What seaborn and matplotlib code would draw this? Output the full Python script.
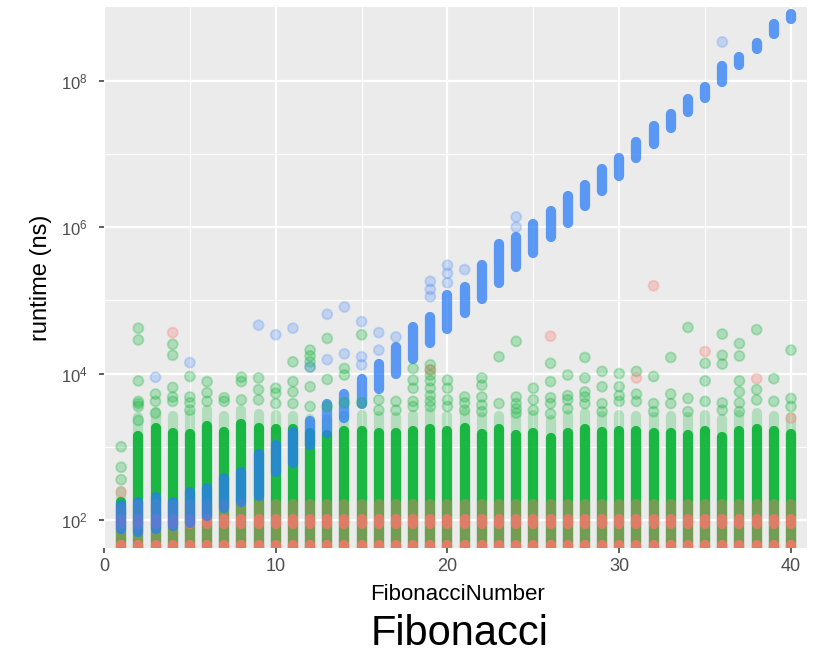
import numpy as np
import pandas as pd
import matplotlib
matplotlib.use("Agg")
import matplotlib.pyplot as plt
import seaborn as sns
from matplotlib.ticker import FixedLocator, FuncFormatter

# ---------------- data (log10 of runtime in ns) ----------------
fib_n = list(range(1, 41))

# dense green block: top of the solid column (bottom runs below the axis)
green_core_top = [2.24, 3.15, 3.26, 3.19, 3.17, 3.28, 3.20, 3.31, 3.26, 3.24,
                  3.24, 3.19, 3.16, 3.22, 3.22, 3.19, 3.19, 3.21, 3.24, 3.21,
                  3.26, 3.17, 3.24, 3.16, 3.19, 3.12, 3.19, 3.24, 3.20, 3.22,
                  3.21, 3.19, 3.19, 3.16, 3.21, 3.14, 3.21, 3.24, 3.21, 3.17]
green_core_bottom = [1.55] * 40
# lighter fringe above the dense green block
green_fringe_top = [2.40, 3.40, 3.48, 3.42, 3.45, 3.50, 3.42, 3.50, 3.45, 3.44,
                    3.42, 3.38, 3.36, 3.42, 3.44, 3.42, 3.40, 3.44, 3.48, 3.42,
                    3.46, 3.40, 3.42, 3.42, 3.44, 3.36, 3.44, 3.46, 3.42, 3.44,
                    3.42, 3.40, 3.42, 3.40, 3.44, 3.38, 3.44, 3.46, 3.42, 3.40]

green_out_n = [1, 1, 1,
               2, 2, 2, 2, 2, 2, 2,
               3, 3, 3,
               4, 4, 4, 4, 4,
               5, 5, 5, 5,
               6, 6, 6,
               7, 7,
               8, 8, 8,
               9, 9, 9,
               10, 10, 10,
               11, 11, 11, 11,
               12, 12, 12, 12, 12, 12,
               13, 13, 13,
               14, 14, 14,
               15, 15,
               16, 16,
               17, 17,
               18, 18, 18, 18, 18,
               19, 19, 19, 19, 19, 19, 19, 19,
               20, 20, 20, 20,
               21, 21, 21,
               22, 22, 22, 22, 22,
               23, 23,
               24, 24, 24, 24, 24,
               25, 25, 25,
               26, 26, 26, 26, 26,
               27, 27, 27, 27,
               28, 28, 28, 28, 28,
               29, 29, 29, 29,
               30, 30, 30, 30,
               31, 31, 31,
               32, 32, 32,
               33, 33, 33,
               34, 34, 34,
               35, 35, 35,
               36, 36, 36, 36, 36,
               37, 37, 37, 37, 37, 37,
               38, 38, 38,
               39, 39,
               40, 40, 40]
green_out_y = [3.00, 2.72, 2.55,
               4.62, 4.46, 3.90, 3.62, 3.59, 3.55, 3.36,
               3.72, 3.62, 3.46,
               4.40, 4.25, 3.81, 3.68, 3.62,
               3.96, 3.68, 3.60, 3.50,
               3.89, 3.74, 3.62,
               3.67, 3.62,
               3.95, 3.89, 3.64,
               3.94, 3.78, 3.64,
               3.80, 3.73, 3.59,
               4.16, 3.89, 3.75, 3.59,
               4.32, 4.24, 4.16, 4.09, 3.82, 3.55,
               4.48, 3.92, 3.55,
               4.07, 3.98, 3.60,
               4.53, 3.60,
               3.64, 3.50,
               3.62, 3.50,
               4.07, 3.91, 3.80, 3.62, 3.55,
               4.12, 4.05, 3.98, 3.90, 3.80, 3.70, 3.62, 3.55,
               3.91, 3.80, 3.64, 3.55,
               3.68, 3.60, 3.50,
               3.94, 3.84, 3.68, 3.57, 3.48,
               4.23, 3.59,
               4.44, 3.68, 3.59, 3.52, 3.46,
               3.80, 3.64, 3.50,
               4.14, 3.89, 3.67, 3.59, 3.45,
               3.98, 3.70, 3.64, 3.52,
               4.22, 3.94, 3.75, 3.68, 3.59,
               4.03, 3.82, 3.59, 3.48,
               4.00, 3.82, 3.70, 3.62,
               4.03, 3.72, 3.62,
               3.96, 3.59, 3.48,
               4.22, 3.72, 3.59,
               4.63, 3.66, 3.48,
               4.14, 3.90, 3.62,
               4.54, 4.25, 4.13, 3.60, 3.50,
               4.41, 4.24, 3.90, 3.75, 3.60, 3.48,
               4.60, 3.78, 3.64,
               3.93, 3.62,
               4.32, 3.66, 3.55]

# red: broad faint block and two dense bands near the bottom
red_block_bottom = [1.55] * 40
red_block_top = [2.15, 2.20, 2.22, 2.20, 2.22, 2.22, 2.22, 2.22, 2.22, 2.22,
                 2.22, 2.22, 2.22, 2.22, 2.22, 2.22, 2.22, 2.22, 2.22, 2.22,
                 2.22, 2.22, 2.22, 2.22, 2.22, 2.22, 2.22, 2.22, 2.22, 2.22,
                 2.22, 2.22, 2.22, 2.22, 2.22, 2.22, 2.22, 2.22, 2.22, 2.22]
red_low_band_top = [1.66] * 40
red_mid_band_bottom = [1.94] * 40
red_mid_band_top = [2.02] * 40
red_out_n = [1, 4, 19, 26, 31, 32, 35, 38, 40]
red_out_y = [2.38, 4.56, 4.05, 4.51, 3.94, 5.20, 4.30, 3.93, 3.39]

# blue: exponential column per n
blue_lo = [1.88, 1.83, 1.88, 1.92, 1.96, 2.06, 2.16, 2.24, 2.33, 2.65,
           2.78, 3.02, 3.19, 3.39, 3.59, 3.79, 4.00, 4.20, 4.42, 4.61,
           4.83, 5.02, 5.24, 5.45, 5.65, 5.86, 6.06, 6.29, 6.50, 6.70,
           6.94, 7.14, 7.35, 7.57, 7.77, 7.98, 8.21, 8.44, 8.64, 8.85]
blue_hi = [2.21, 2.25, 2.31, 2.25, 2.38, 2.44, 2.58, 2.66, 2.90, 3.03,
           3.20, 3.35, 3.58, 3.72, 3.92, 4.13, 4.36, 4.63, 4.77, 5.08,
           5.18, 5.49, 5.77, 5.86, 6.04, 6.22, 6.42, 6.58, 6.79, 6.95,
           7.16, 7.38, 7.54, 7.75, 7.91, 8.20, 8.33, 8.52, 8.77, 8.91]
blue_out_n = [3, 5, 9, 10, 11, 12, 13, 13, 14, 14, 15, 15, 15, 16, 16, 17,
              19, 19, 19, 20, 20, 20, 21, 24, 24, 36]
blue_out_y = [3.95, 4.15, 4.66, 4.53, 4.62, 4.09, 4.81, 4.19, 4.91, 4.27,
              4.71, 4.23, 4.12, 4.56, 4.32, 4.50,
              5.26, 5.15, 5.05, 5.48, 5.37, 5.24, 5.42, 6.14, 6.00, 8.53]

# ---------------- style ----------------
sns.set_theme(style="darkgrid")
plt.rcParams['font.family'] = ['Liberation Sans', 'DejaVu Sans']
plt.rcParams['mathtext.fontset'] = 'custom'
plt.rcParams['mathtext.rm'] = 'Liberation Sans'
plt.rcParams['mathtext.it'] = 'Liberation Sans:italic'

RED = '#F8766D'
GREEN = '#10B53A'
BLUE = '#2A7CF6'

W, H = 813, 654
fig = plt.figure(figsize=(W / 100, H / 100), dpi=100)
fig.patch.set_facecolor('white')
ax = fig.add_axes([104 / W, 1 - 548 / H, (807.3 - 104) / W, (548 - 7.3) / H])
ax.set_facecolor('#EBEBEB')


def p10(v):
    return np.power(10.0, np.asarray(v, dtype=float))


def column(x, lo, hi, color, alpha, lw=7.4):
    lc = ax.vlines(x, p10(lo), p10(hi), colors=color, alpha=alpha, linewidth=lw, zorder=2)
    lc.set_capstyle('round')
    return lc


# green
column(fib_n, green_core_top, green_fringe_top, GREEN, 0.25)
column(fib_n, green_core_bottom, green_core_top, GREEN, 0.95)
# red
column(fib_n, red_block_bottom, red_block_top, RED, 0.40)
column(fib_n, red_block_bottom, red_low_band_top, RED, 0.85)
column(fib_n, red_mid_band_bottom, red_mid_band_top, RED, 0.80)
# blue
column(fib_n, blue_lo, blue_hi, BLUE, 0.75)

# individual scattered points
pts = pd.DataFrame({
    'FibonacciNumber': green_out_n + red_out_n + blue_out_n,
    'runtime': np.concatenate([p10(green_out_y), p10(red_out_y), p10(blue_out_y)]),
    'series': ['g'] * len(green_out_n) + ['r'] * len(red_out_n) + ['b'] * len(blue_out_n),
})
sns.scatterplot(data=pts, x='FibonacciNumber', y='runtime', hue='series',
                palette={'g': GREEN, 'r': RED, 'b': '#5593F6'}, alpha=0.28, s=52,
                edgecolor='face', linewidth=1.3, legend=False, ax=ax, zorder=3)

# ---------------- axes ----------------
ax.set_yscale('log')
ax.set_xlim(0, 40.95)
ax.set_ylim(10 ** 1.617, 10 ** 9.004)
ax.xaxis.set_major_locator(FixedLocator([0, 10, 20, 30, 40]))
ax.xaxis.set_minor_locator(FixedLocator([5, 15, 25, 35]))
ax.yaxis.set_major_locator(FixedLocator([1e2, 1e4, 1e6, 1e8]))
ax.yaxis.set_minor_locator(FixedLocator([1e3, 1e5, 1e7]))
ax.yaxis.set_major_formatter(FuncFormatter(lambda v, p: r'$10^{%d}$' % round(np.log10(v))))
ax.xaxis.set_major_formatter(FuncFormatter(lambda v, p: '%d' % v))
ax.yaxis.set_minor_formatter(FuncFormatter(lambda v, p: ''))

ax.grid(which='major', color='white', linewidth=1.6)
ax.grid(which='minor', color='white', linewidth=0.8)
ax.set_axisbelow(True)
for s in ax.spines.values():
    s.set_visible(False)

ax.tick_params(axis='both', which='major', length=3.5, width=1.1, color='#333333',
               labelcolor='#4D4D4D', bottom=True, left=True)
ax.tick_params(axis='both', which='minor', length=0, bottom=False, left=False)
ax.tick_params(axis='x', labelsize=13, pad=4)
ax.tick_params(axis='y', labelsize=12, pad=8)

ax.set_xlabel('')
ax.set_ylabel('')
fig.text(457 / W, 1 - 594 / H, 'FibonacciNumber', ha='center', va='center',
         fontsize=16, color='black')
fig.text(41 / W, 1 - 278 / H, 'runtime (ns)', ha='center', va='center',
         rotation=90, fontsize=17, color='black')
fig.text(460 / W, 1 - 634 / H, 'Fibonacci', ha='center', va='center',
         fontsize=30, color='black')

fig.savefig('out.png', dpi=100)
